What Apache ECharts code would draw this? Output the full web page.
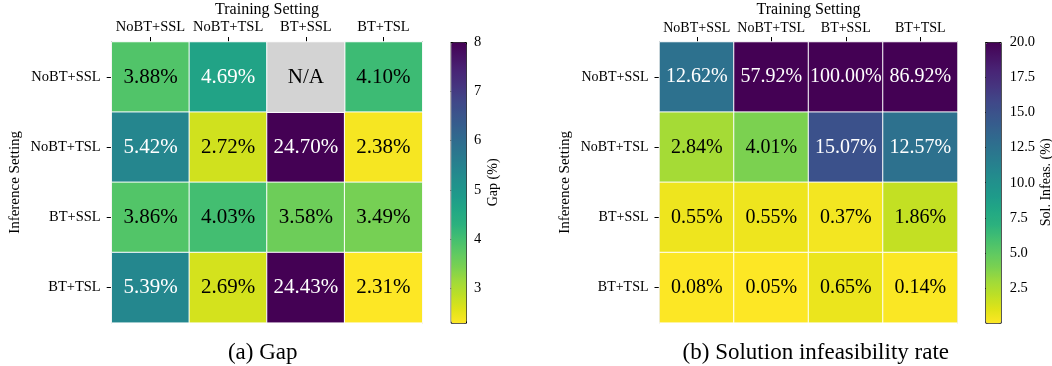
<!DOCTYPE html>
<html><head><meta charset="utf-8">
<script src="https://cdn.jsdelivr.net/npm/echarts@6/dist/echarts.min.js"></script>
<style>html,body{margin:0;padding:0;background:#fff}#c{width:1052px;height:366px}</style>
</head><body><div id="c"></div>
<script>
// ---- data ----
const trainingSettings = ['NoBT+SSL', 'NoBT+TSL', 'BT+SSL', 'BT+TSL'];
const inferenceSettings = ['NoBT+SSL', 'NoBT+TSL', 'BT+SSL', 'BT+TSL'];
// rows = inference setting, columns = training setting (null = N/A)
const gapValues = [
  [3.88, 4.69, null, 4.10],
  [5.42, 2.72, 24.70, 2.38],
  [3.86, 4.03, 3.58, 3.49],
  [5.39, 2.69, 24.43, 2.31]
];
const infeasValues = [
  [12.62, 57.92, 100.00, 86.92],
  [2.84, 4.01, 15.07, 12.57],
  [0.55, 0.55, 0.37, 1.86],
  [0.08, 0.05, 0.65, 0.14]
];
const gapRange = [2.31, 8];
const infeasRange = [0.05, 20];
const gapTicks = [3, 4, 5, 6, 7, 8];
const infeasTicks = [2.5, 5, 7.5, 10, 12.5, 15, 17.5, 20];
const captions = ['(a) Gap', '(b) Solution infeasibility rate'];
const axisNames = { x: 'Training Setting', y: 'Inference Setting', gap: 'Gap (%)', infeas: 'Sol. Infeas. (%)' };

// viridis, reversed (low = yellow, high = purple)
const viridis = ['#440154','#471365','#482475','#46337e','#414487','#3b528b','#355f8d','#2f6c8e','#2a788e','#25858e',
  '#21918c','#1e9b8a','#22a884','#2cb17e','#44bf70','#5ec962','#7ad151','#9fda3a','#bddf26','#dfe318','#fde725'];
const viridisR = viridis.slice().reverse();

const FONT = 'Liberation Serif';

function cells(values, range) {
  const out = [];
  values.forEach((row, r) => row.forEach((v, c) => {
    if (v === null) return;
    const clamped = Math.min(Math.max(v, range[0]), range[1]);
    const frac = (clamped - range[0]) / (range[1] - range[0]);
    out.push({ value: [c, r, clamped, v], label: { color: frac > 0.4 ? '#ffffff' : '#000000' } });
  }));
  return out;
}
function naCells(values) {
  const out = [];
  values.forEach((row, r) => row.forEach((v, c) => { if (v === null) out.push({ value: [c, r, 0, null] }); }));
  return out;
}

const H = { top: 42, height: 280.7 };
const grids = [
  { left: 111.7, top: H.top, width: 310.6, height: H.height, outerBoundsMode: 'none', containLabel: false },
  { left: 659.5, top: H.top, width: 298, height: H.height, outerBoundsMode: 'none', containLabel: false },
  { left: 450.7, top: H.top, width: 15.3, height: H.height, outerBoundsMode: 'none', containLabel: false },
  { left: 985.3, top: H.top, width: 15.4, height: H.height, outerBoundsMode: 'none', containLabel: false }
];

const lineOnly = { show: true, lineStyle: { color: '#000', width: 1 } };
function topX(grid, fs) {
  return {
    type: 'category', gridIndex: grid, position: 'top', data: trainingSettings,
    axisLine: lineOnly,
    axisTick: { show: true, inside: false, length: 5, alignWithLabel: true, lineStyle: { color: '#000', width: 1 } },
    axisLabel: { fontFamily: FONT, fontSize: fs, color: '#000', margin: 7, interval: 0 },
    splitLine: { show: false },
    name: axisNames.x, nameLocation: 'middle', nameGap: 24, nameMoveOverlap: false,
    nameTextStyle: { fontFamily: FONT, fontSize: 16, color: '#000' }
  };
}
function bottomX(grid) {
  return { type: 'category', gridIndex: grid, position: 'bottom', data: trainingSettings,
    axisLine: lineOnly, axisTick: { show: false }, axisLabel: { show: false }, splitLine: { show: false } };
}
function leftY(grid, fs, gap) {
  return {
    type: 'category', gridIndex: grid, position: 'left', inverse: true, data: inferenceSettings,
    axisLine: lineOnly,
    axisTick: { show: true, inside: false, length: 5, alignWithLabel: true, lineStyle: { color: '#000', width: 1 } },
    axisLabel: { fontFamily: FONT, fontSize: fs, color: '#000', margin: 11, interval: 0 },
    splitLine: { show: false },
    name: axisNames.y, nameLocation: 'middle', nameGap: gap,
    nameTextStyle: { fontFamily: FONT, fontSize: 15, color: '#000' }
  };
}
function rightY(grid) {
  return { type: 'category', gridIndex: grid, position: 'right', inverse: true, data: inferenceSettings,
    axisLine: lineOnly, axisTick: { show: false }, axisLabel: { show: false }, splitLine: { show: false } };
}
function cbX(grid) {
  return { type: 'value', gridIndex: grid, show: false, min: 0, max: 1 };
}
function cbY(grid, range, ticks, name, gap, margin, fmt) {
  return {
    type: 'value', gridIndex: grid, position: 'right', min: range[0], max: range[1],
    axisLine: { show: false },
    axisTick: { show: true, inside: false, length: 5, customValues: ticks, lineStyle: { color: '#000', width: 1 } },
    axisLabel: { show: true, customValues: ticks, fontFamily: FONT, fontSize: 14.5, color: '#000', margin: margin,
      formatter: fmt, showMinLabel: true, showMaxLabel: true },
    splitLine: { show: false },
    name: name, nameLocation: 'middle', nameGap: gap, nameRotate: 90,
    nameTextStyle: { fontFamily: FONT, fontSize: 14, color: '#000' }
  };
}

function heat(xi, yi, data, fs) {
  return {
    type: 'heatmap', xAxisIndex: xi, yAxisIndex: yi, data: data,
    itemStyle: { borderColor: '#ffffff', borderWidth: 1 },
    label: { show: true, fontFamily: FONT, fontSize: fs,
      formatter: p => p.data.value[3].toFixed(2) + '%' },
    emphasis: { disabled: true }, animation: false
  };
}

const option = {
  animation: false,
  backgroundColor: '#ffffff',
  title: [
    { text: captions[0], left: 257.7, top: 336, textAlign: 'center',
      textStyle: { fontFamily: FONT, fontSize: 23, fontWeight: 'normal', color: '#000' } },
    { text: captions[1], left: 810.8, top: 336, textAlign: 'center',
      textStyle: { fontFamily: FONT, fontSize: 23, fontWeight: 'normal', color: '#000' } }
  ],
  grid: grids,
  xAxis: [topX(0, 14.5), bottomX(0), topX(1, 14), bottomX(1), cbX(2), cbX(3)],
  yAxis: [leftY(0, 14.5, 89), rightY(0), leftY(1, 14, 87), rightY(1),
    cbY(2, gapRange, gapTicks, axisNames.gap, 20, 8, v => String(v)),
    cbY(3, infeasRange, infeasTicks, axisNames.infeas, 37, 9, v => v.toFixed(1))],
  visualMap: [
    { type: 'continuous', seriesIndex: 0, dimension: 2, min: gapRange[0], max: gapRange[1],
      inRange: { color: viridisR }, left: 450.7, top: 42, itemWidth: 15.3, itemHeight: 280.7,
      padding: 0, calculable: false, hoverLink: false, borderColor: '#000', borderWidth: 1 },
    { type: 'continuous', seriesIndex: 2, dimension: 2, min: infeasRange[0], max: infeasRange[1],
      inRange: { color: viridisR }, left: 985.3, top: 42, itemWidth: 15.4, itemHeight: 280.7,
      padding: 0, calculable: false, hoverLink: false, borderColor: '#000', borderWidth: 1 }
  ],
  series: [
    heat(0, 0, cells(gapValues, gapRange), 21),
    Object.assign(heat(0, 0, naCells(gapValues), 21), {
      itemStyle: { color: '#d3d3d3', borderColor: '#ffffff', borderWidth: 1 },
      label: { show: true, fontFamily: FONT, fontSize: 21, color: '#000', formatter: () => 'N/A' } }),
    heat(2, 2, cells(infeasValues, infeasRange), 20)
  ]
};

const chart = echarts.init(document.getElementById('c'), null, { renderer: 'canvas' });
chart.setOption(option);
</script>
</body></html>
